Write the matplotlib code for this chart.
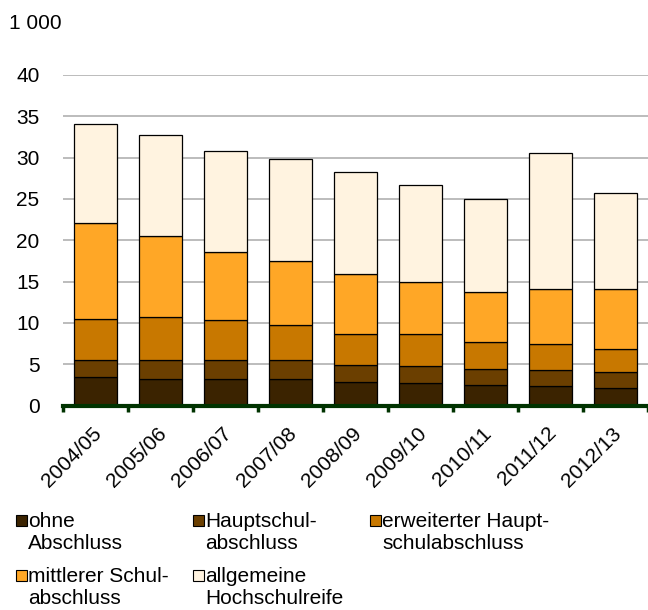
import matplotlib
matplotlib.use("Agg")
import matplotlib.pyplot as plt
import matplotlib.transforms as mtransforms
from matplotlib.patches import Rectangle
import numpy as np

plt.rcParams['font.family'] = ['Liberation Sans', 'DejaVu Sans']

years = ['2004/05', '2005/06', '2006/07', '2007/08', '2008/09',
         '2009/10', '2010/11', '2011/12', '2012/13']

# Absolventen in 1 000
ohne = [3.5, 3.2, 3.2, 3.2, 2.8, 2.77, 2.5, 2.37, 2.15]
haupt = [2.0, 2.3, 2.35, 2.3, 2.1, 1.98, 1.9, 1.88, 1.9]
erweitert = [5.0, 5.2, 4.85, 4.3, 3.7, 3.85, 3.25, 3.25, 2.85]
mittlerer = [11.6, 9.8, 8.2, 7.65, 7.3, 6.4, 6.1, 6.6, 7.15]
allgemein = [12.0, 12.25, 12.15, 12.4, 12.3, 11.7, 11.2, 16.5, 11.6]

labels = ['ohne\nAbschluss', 'Hauptschul-\nabschluss',
          'erweiterter Haupt-\nschulabschluss', 'mittlerer Schul-\nabschluss',
          'allgemeine\nHochschulreife']
colors = ['#3b2300', '#6b3f00', '#c87800', '#ffa726', '#fff3e0']

series = [ohne, haupt, erweitert, mittlerer, allgemein]
FS = 15

fig = plt.figure(figsize=(6.48, 6.10), dpi=100)
ax = fig.add_axes([63 / 648, 1 - 405.6 / 610, 1 - 63 / 648, (405.6 - 74.8) / 610])

x = np.arange(len(years))
bottom = np.zeros(len(years))
for vals, col in zip(series, colors):
    ax.bar(x, vals, bottom=bottom, width=0.66, color=col,
           edgecolor='black', linewidth=0.9, zorder=3)
    bottom += np.array(vals)

ax.set_xlim(-0.5, 8.5)
ax.set_ylim(0, 40)
ax.set_yticks(range(0, 41, 5))
ax.yaxis.grid(True, color='#b0b0b0', linewidth=1.2, zorder=0)
ax.tick_params(axis='y', length=0, pad=17, labelsize=FS)

for s in ['top', 'right', 'left']:
    ax.spines[s].set_visible(False)
ax.spines['bottom'].set_color('#003300')
ax.spines['bottom'].set_linewidth(3)
ax.spines['bottom'].set_zorder(4)

ax.set_xticks(x)
ax.set_xticklabels(years, rotation=45, ha='right', va='top',
                   rotation_mode='anchor', fontsize=FS)
ax.tick_params(axis='x', which='major', length=0, pad=13)
ax.set_xticks(np.arange(-0.5, 9, 1), minor=True)
ax.tick_params(axis='x', which='minor', length=4, width=2.5, color='#003300',
               direction='out')
offset = mtransforms.ScaledTranslation(-2.5 / 72, 0, fig.dpi_scale_trans)
for lab in ax.get_xticklabels():
    lab.set_transform(lab.get_transform() + offset)

fig.text(9 / 648, 1 - 23.5 / 610, '1 000', fontsize=FS, va='center', ha='left')

# Legende
pos = [(16, 515), (193, 515), (370, 515), (16, 570), (193, 570)]
for (px, py), lab, col in zip(pos, labels, colors):
    fig.add_artist(Rectangle((px / 648, 1 - (py + 10.5) / 610), 10.5 / 648, 10.5 / 610,
                             transform=fig.transFigure, facecolor=col,
                             edgecolor='black', linewidth=0.8))
    fig.text((px + 12) / 648, 1 - (py - 3) / 610, lab, fontsize=FS,
             va='top', ha='left', linespacing=1.2)

fig.savefig('out.png', dpi=100)
